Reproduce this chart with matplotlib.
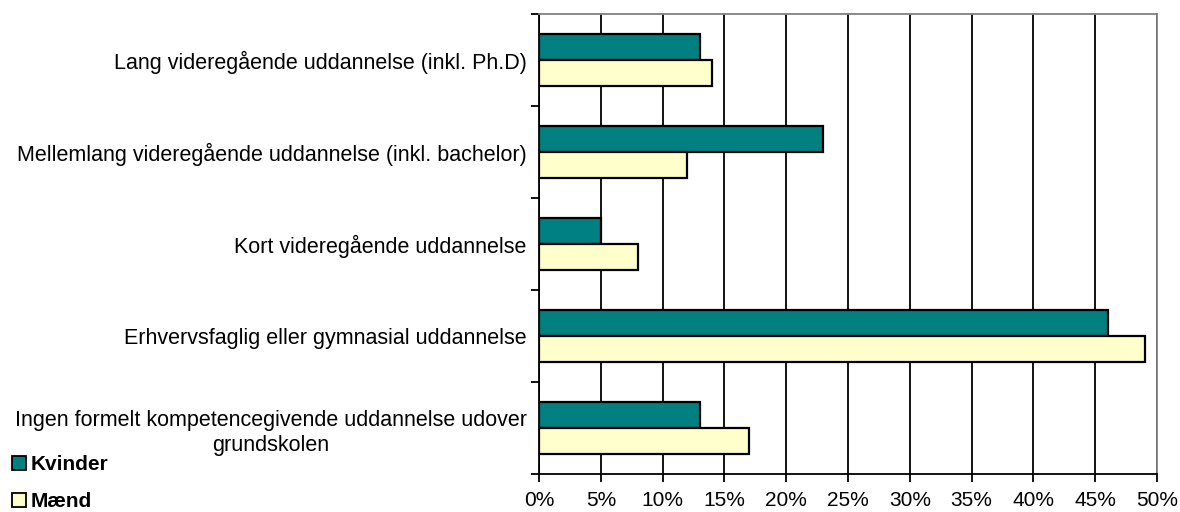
import matplotlib.pyplot as plt
import numpy as np
from matplotlib.patches import Patch

plt.rcParams['font.family'] = ['Liberation Sans', 'DejaVu Sans']

categories = [
    "Ingen formelt kompetencegivende uddannelse udover\ngrundskolen",
    "Erhvervsfaglig eller gymnasial uddannelse",
    "Kort videregående uddannelse",
    "Mellemlang videregående uddannelse (inkl. bachelor)",
    "Lang videregående uddannelse (inkl. Ph.D)",
]
kvinder = [13, 46, 5, 23, 13]
maend = [17, 49, 8, 12, 14]
series_names = ["Kvinder", "Mænd"]
xticks = [0, 5, 10, 15, 20, 25, 30, 35, 40, 45, 50]

fig = plt.figure(figsize=(11.8, 5.12), dpi=100)
ax = fig.add_axes([0.4568, 0.0742, 0.5237, 0.8985])

y = np.arange(len(categories))
h = 0.285
ax.barh(y + h / 2, kvinder, height=h, color="#008080", edgecolor="black", linewidth=1.6, zorder=3)
ax.barh(y - h / 2, maend, height=h, color="#FFFFCC", edgecolor="black", linewidth=1.6, zorder=3)

ax.set_xlim(0, 50)
ax.set_ylim(-0.5, len(categories) - 0.5)
ax.set_xticks(xticks)
ax.set_xticklabels([f"{v}%" for v in xticks], fontsize=15)
ax.xaxis.grid(True, color="black", linewidth=1.3, zorder=0)
ax.set_axisbelow(True)

ax.set_yticks(y)
ax.set_yticklabels(categories, fontsize=15.5, ha="right", multialignment="center",
                   linespacing=1.3)
ax.tick_params(axis="y", length=0, pad=9)
ax.set_yticks(np.arange(-0.5, len(categories), 1), minor=True)
ax.tick_params(axis="y", which="minor", length=6, width=1.3, direction="out")
ax.tick_params(axis="x", length=6, width=1.3, direction="out", pad=6)

for s in ["top", "right"]:
    ax.spines[s].set_color("#808080")
    ax.spines[s].set_linewidth(1.3)
for s in ["left", "bottom"]:
    ax.spines[s].set_color("black")
    ax.spines[s].set_linewidth(1.3)

handles = [Patch(facecolor="#008080", edgecolor="black", linewidth=1.3),
           Patch(facecolor="#FFFFCC", edgecolor="black", linewidth=1.3)]
fig.legend(handles, series_names, loc="lower left", bbox_to_anchor=(-0.006, -0.035),
           frameon=False, prop={"weight": "bold", "size": 15},
           handlelength=0.7, handleheight=0.7, handletextpad=0.2, labelspacing=0.85)

fig.savefig("out.png", dpi=100)
